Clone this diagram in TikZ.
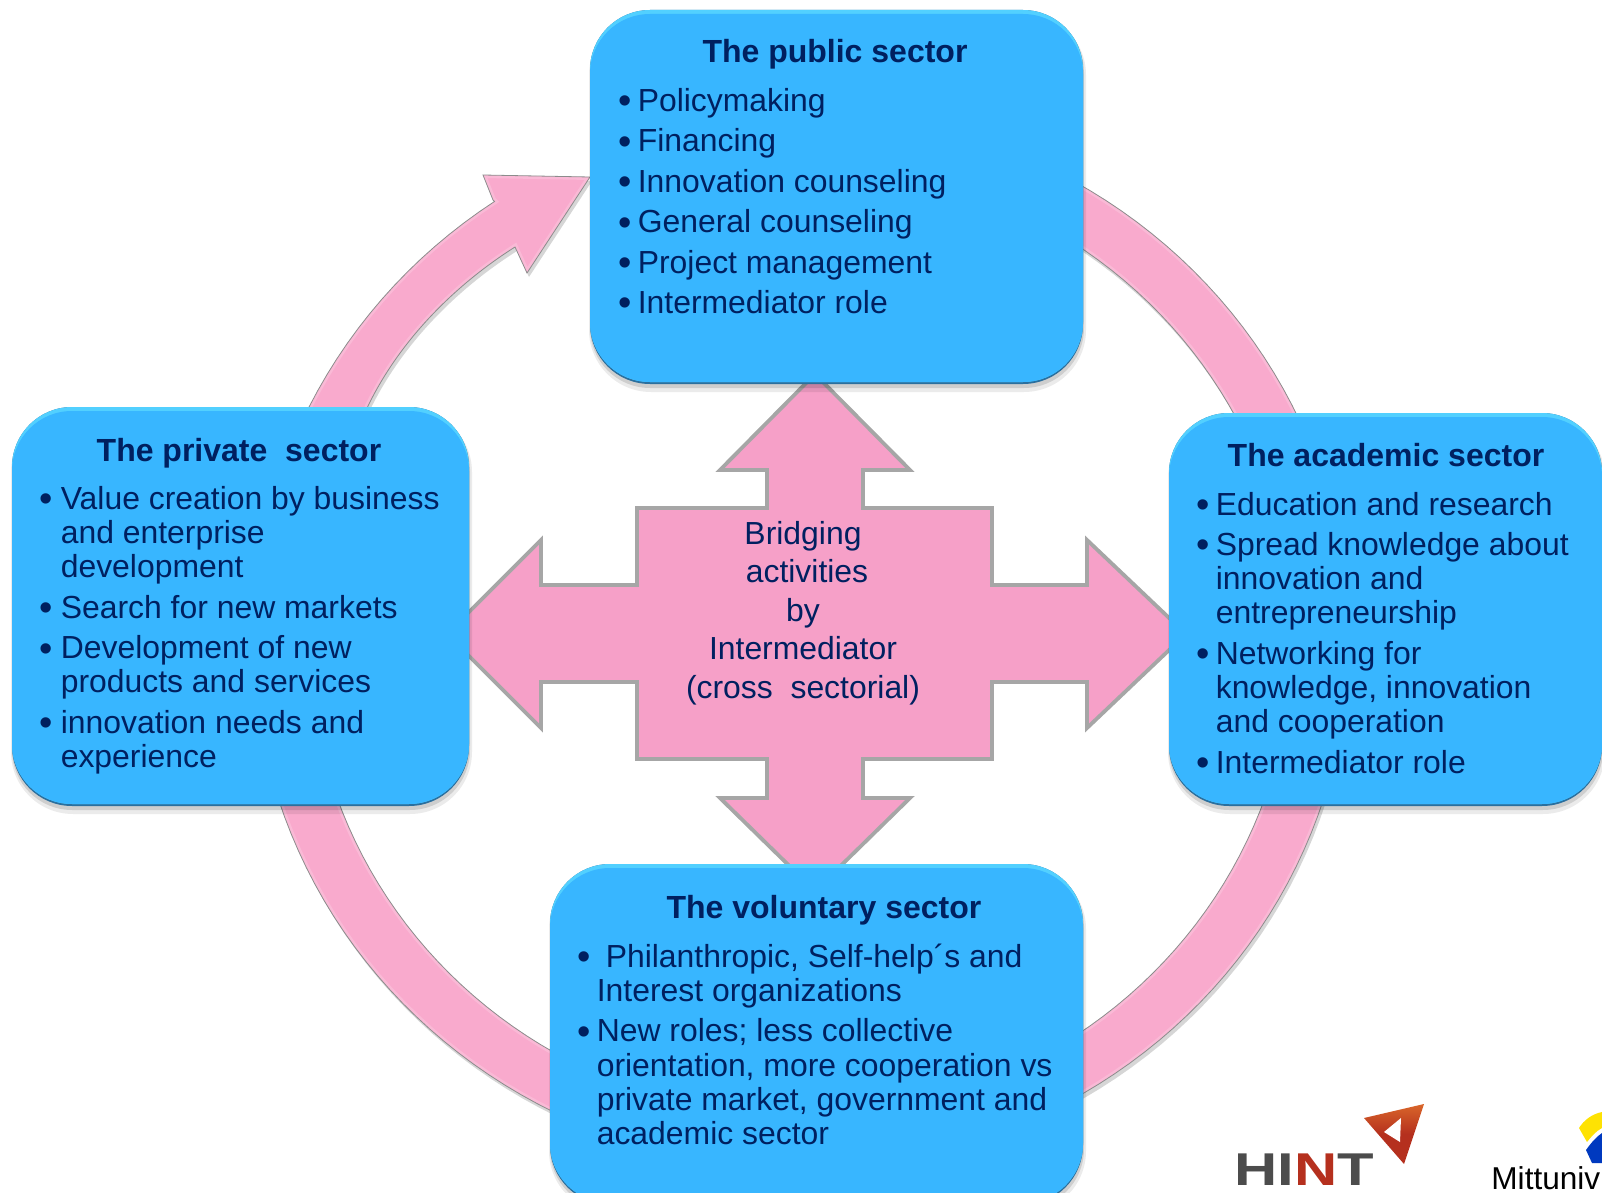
\documentclass[tikz,border=0pt]{standalone}
\usepackage{fontspec}
\setmainfont{Liberation Sans}
\definecolor{boxblue}{HTML}{38B6FF}
\definecolor{boxtop}{HTML}{52D0FF}
\definecolor{boxedge}{HTML}{2A6F9E}
\definecolor{ringpink}{HTML}{F9AACD}
\definecolor{crosspink}{HTML}{F6A0C8}
\definecolor{navy}{HTML}{002060}
\definecolor{logored}{HTML}{B5301E}
\definecolor{logoorange}{HTML}{D9662A}
\newlength{\itmhang}\setlength{\itmhang}{9.7pt}
\newcommand{\itm}[1]{\setlength{\parskip}{3.1pt}\par\hangindent=\itmhang\hangafter=1\noindent\hbox to \itmhang{\raisebox{-1.2pt}[0pt][0pt]{\fontsize{19}{17}\selectfont\textbullet}\hss}#1\par}
\tikzset{
  x=0.5pt,y=-0.5pt,
  title/.style={font=\fontsize{16}{18}\selectfont\bfseries,text=navy,inner sep=0pt,anchor=base},
  items/.style={font=\fontsize{15.95}{17.1}\selectfont,text=navy,inner sep=0pt,anchor=north west,align=left},
  crossline/.style={fill=crosspink,draw=black!35,line width=1.9pt,miter limit=10},
}
\newcommand{\ringpath}{(483,175) -- (590,177) -- (527,273) -- (515,247)
  .. controls (455,285) and (400,340) .. (368,406) -- (317,557)
  -- plot[domain=170:440,samples=140] ({801+491.7*cos(\x)},{640-477*sin(\x)})
  -- plot[domain=440:124,samples=160] ({801+548*cos(\x)},{640-529*sin(\x)})
  -- (493,200) -- cycle}
\newcommand{\sectorbox}[5]{% name x1 y1 x2 y2
  \fill[black,opacity=0.08,rounded corners=31pt] (#2-1,#3+3) rectangle (#4+3,#5+8);
  \fill[black,opacity=0.12,rounded corners=30pt] (#2,#3+2) rectangle (#4+1,#5+4);
  \fill[boxedge,rounded corners=30pt] (#2,#3) rectangle (#4,#5);
  \fill[boxtop,rounded corners=30pt] (#2,#3) rectangle (#4,#5-2);
  \fill[boxblue,rounded corners=30pt] (#2,#3+4) rectangle (#4,#5-2);
  \node[inner sep=0pt,minimum width={(#4-#2)*0.5pt},minimum height={(#5-#3)*0.5pt}] (#1) at ({(#2+#4)/2},{(#3+#5)/2}) {};
}
\begin{document}
\begin{tikzpicture}
\useasboundingbox (0,0) rectangle (1602,1193);
\clip (0,0) rectangle (1602,1193);
% ring with arrow head
\fill[black,opacity=0.16,xshift=1pt,yshift=-2pt] \ringpath;
\fill[ringpink] \ringpath;
\begin{scope}
  \clip \ringpath;
  \draw[white,opacity=0.18,line width=3pt] \ringpath;
\end{scope}
\draw[black!45,line width=0.4pt] \ringpath;
% cross
\draw[crossline] (815,374) -- (910,470) -- (863,470) -- (863,508) -- (992,508) -- (992,585) -- (1087,585) -- (1087,540)
  -- (1186,634) -- (1087,728) -- (1087,682) -- (992,682) -- (992,759) -- (863,759) -- (863,798) -- (910,798)
  -- (815,891) -- (720,798) -- (767,798) -- (767,759) -- (637,759) -- (637,682) -- (541,682) -- (541,728)
  -- (447,634) -- (541,540) -- (541,585) -- (637,585) -- (637,508) -- (767,508) -- (767,470) -- (720,470) -- cycle;
\node[font=\fontsize{15.95}{19.25}\selectfont,text=navy,align=center,inner sep=0pt] (bridge) at (803,613)
  {Bridging\\\hspace*{4pt}activities\\by\\Intermediator\\(cross\ \ sectorial)};
% boxes
\sectorbox{pub}{590}{10}{1083}{384}
\sectorbox{pri}{12}{407}{469}{806}
\sectorbox{aca}{1169}{413}{1602}{806}
\sectorbox{vol}{550}{864}{1083}{1205}
% titles
\node[title] (pubt) at (835,63) {The public sector};
\node[title] (prit) at (239,461) {The private\ \ sector};
\node[title] (acat) at (1386,466) {The academic sector};
\node[title] (volt) at (824,918) {The voluntary sector};
% items
\node[items] (pubi) at (618,88) {\parbox[t]{230pt}{%
\itm{Policymaking}\itm{Financing}\itm{Innovation counseling}\itm{General counseling}\itm{Project management}\itm{Intermediator role}}};
\node[items] (prii) at (39,486) {\setlength{\itmhang}{10.7pt}\parbox[t]{212pt}{%
\itm{Value creation by business\\and enterprise\\development}\itm{Search for new markets}\itm{Development of new\\products and services}\itm{innovation needs and\\experience}}};
\node[items] (acai) at (1196,491.5) {\parbox[t]{200pt}{%
\itm{Education and research}\itm{Spread knowledge about\\innovation and\\entrepreneurship}\itm{Networking for\\knowledge, innovation\\and cooperation}\itm{Intermediator role}}};
\node[items] (voli) at (577,943.5) {\parbox[t]{250pt}{%
\itm{\hspace*{4.5pt}Philanthropic, Self-help´s and\\Interest organizations}\itm{New roles; less collective\\orientation, more cooperation vs\\private market, government and\\academic sector}}};
% logos
\node[font=\fontsize{23}{23}\selectfont\bfseries,text=black!70,inner sep=0pt,anchor=base west] (hint) at (1234,1185) {\scalebox{1.3}[1]{HI\textcolor{logored}{N}T}};
\shade[top color=logoorange,bottom color=logored,middle color=logored] (1364,1118) -- (1424,1104) -- (1404,1164) -- cycle;
\fill[white] (1384,1132) -- (1401,1118) -- (1400,1142) -- cycle;
\fill[yellow!85!orange] (1579,1128) .. controls (1584,1120) and (1592,1114) .. (1602,1112) -- (1602,1128) .. controls (1596,1131) and (1591,1137) .. (1587,1142) -- cycle;
\fill[blue!70!cyan!75!black] (1586,1150) .. controls (1591,1143) and (1596,1137) .. (1602,1133) -- (1602,1163) -- (1592,1163) -- cycle;
\node[font=\fontsize{15.8}{16}\selectfont,text=black,inner sep=0pt,anchor=base west] (mitt) at (1491,1189) {Mittuniv};
\end{tikzpicture}
\end{document}
